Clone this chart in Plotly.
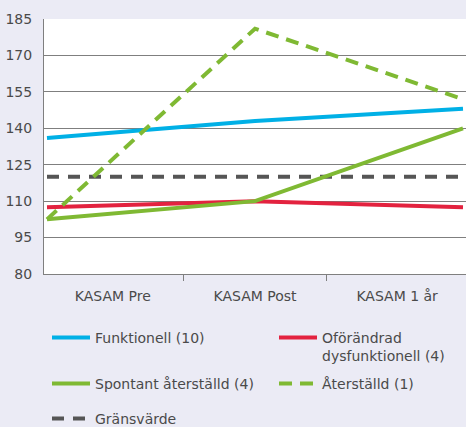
import plotly.graph_objects as go

# KASAM scores per group over the three measurement occasions
categories = ["KASAM Pre", "KASAM Post", "KASAM 1 år"]
funktionell = [136, 143, 148]
oforandrad = [107.5, 110, 107.5]
spontant = [102.5, 110, 140]
aterstalld = [102.5, 181, 152]
gransvarde = [120, 120, 120]

y_ticks = [80, 95, 110, 125, 140, 155, 170, 185]

BLUE = "#00b0e6"
RED = "#e3223f"
GREEN = "#7fb933"
GREY = "#555555"
TEXT = "#4a4a4a"
BG = "#ebebf5"
FONT = "DejaVu Sans"

W, H = 466, 427
M_L, M_R, M_T, M_B = 44, 0, 19, 153

idx = list(range(len(categories)))

# category bands: points sit near band edges, labels at band centres
pad = 0.025
x_lo = -pad
band = (len(categories) - 1 + 2 * pad) / len(categories)
label_pos = [x_lo + band * (i + 0.5) for i in range(len(categories))]
boundary_pos = [x_lo + band * k for k in range(1, len(categories))]

# legend grid (pixel anchors of the two columns and three rows)
COLS = [47, 274]
ROWS = [322, 368, 403]

series = [
    # name, values, colour, dash, column, row
    ("Funktionell (10)", funktionell, BLUE, "solid", 0, 0),
    ("Oförändrad<br>dysfunktionell (4)", oforandrad, RED, "solid", 1, 0),
    ("Spontant återställd (4)", spontant, GREEN, "solid", 0, 1),
    ("Återställd (1)", aterstalld, GREEN, "13px,8px", 1, 1),
    ("Gränsvärde", gransvarde, GREY, "12px,9px", 0, 2),
]

fig = go.Figure()
legends = {}

# draw the threshold first so the data lines sit on top
order = [4, 0, 1, 2, 3]
for k in order:
    name, vals, color, dash, col, row = series[k]
    leg_id = "legend" if k == 0 else f"legend{k + 1}"
    fig.add_trace(go.Scatter(
        x=idx, y=vals, name=name, mode="lines",
        line=dict(color=color, width=4, dash=dash),
        legend=leg_id,
        hoverinfo="skip",
    ))
    legends[leg_id] = dict(
        orientation="h",
        itemwidth=38,
        xref="container", yref="container",
        x=COLS[col] / W, y=1 - ROWS[row] / H,
        xanchor="left", yanchor="top",
        bgcolor="rgba(0,0,0,0)",
        font=dict(family=FONT, size=14, color=TEXT),
        valign="top",
    )

fig.update_layout(
    width=W, height=H,
    margin=dict(l=M_L, r=M_R, t=M_T, b=M_B),
    paper_bgcolor=BG,
    plot_bgcolor="white",
    font=dict(family=FONT, size=14, color=TEXT),
    showlegend=True,
    **legends,
    xaxis=dict(
        range=[-3 / 208, len(categories) - 1 + 3 / 208],
        tickmode="array", tickvals=label_pos, ticktext=categories,
        ticks="", showgrid=False, zeroline=False,
        showline=True, linecolor="#7f7f7f", linewidth=1,
        ticklabelstandoff=9,
        tickfont=dict(family=FONT, size=14, color=TEXT),
        minor=dict(tickmode="array", tickvals=boundary_pos, ticks="outside",
                   ticklen=6, tickcolor="#7f7f7f", tickwidth=1, showgrid=False),
        fixedrange=True,
    ),
    yaxis=dict(
        range=[80, 185],
        tickmode="array", tickvals=y_ticks,
        showgrid=True, gridcolor="#7f7f7f", gridwidth=1,
        zeroline=False,
        showline=True, linecolor="#7f7f7f", linewidth=1,
        ticks="", ticklabelstandoff=8,
        tickfont=dict(family=FONT, size=14, color=TEXT),
        fixedrange=True,
    ),
)

fig.write_html("out.html")
